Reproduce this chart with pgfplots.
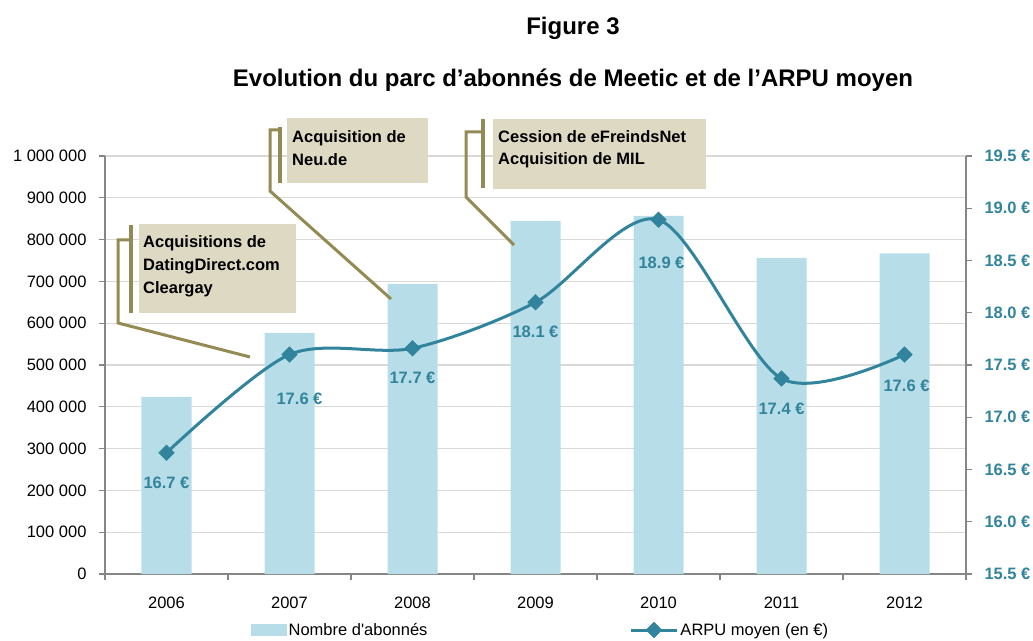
\documentclass[border=0pt]{standalone}
\usepackage{fontspec}
\setmainfont{Liberation Sans}
\usepackage{pgfplots}
\pgfplotsset{compat=1.18}

\definecolor{barblue}{HTML}{B7DEE8}
\definecolor{arpu}{HTML}{31849B}
\definecolor{callbox}{HTML}{DDD9C3}
\definecolor{callline}{HTML}{948A54}
\definecolor{gridgray}{HTML}{D9D9D9}
\definecolor{axisgray}{HTML}{868686}

\newcommand{\lbl}{\fontsize{16.5}{19}\selectfont}

\pgfplotsset{
  arpu legend/.style={legend image code/.code={\draw[mark repeat=2,mark phase=2,##1] plot coordinates {(0pt,0pt) (23pt,0pt) (46pt,0pt)};}},
  bar legend/.style={legend image code/.code={\fill[barblue] (0pt,-5pt) rectangle (35pt,6pt);}},
}

\begin{document}
\begin{tikzpicture}[x=1pt,y=1pt]
\useasboundingbox (0,0) rectangle (1033,640);

% abonnes (barres, axe de gauche)
\begin{axis}[
  at={(105pt,66pt)}, anchor=south west,
  scale only axis, width=861pt, height=418pt,
  xmin=-0.5, xmax=6.5, ymin=0, ymax=1000000,
  axis y line*=left, axis x line*=bottom,
  ytick={0,100000,...,1000000},
  scaled y ticks=false,
  yticklabel style={xshift=-9pt, /pgf/number format/.cd, fixed, precision=0, 1000 sep={\ }, assume math mode=true},
  xtick={0,...,6},
  xticklabels={2006,2007,2008,2009,2010,2011,2012},
  major x tick style={draw=none},
  minor xtick={-0.5,0.5,...,6.5},
  tick align=outside,
  major tick length=6pt, minor tick length=6pt,
  ymajorgrids, grid style={gridgray, line width=1.2pt},
  axis line style={axisgray, line width=1.3pt},
  tick style={axisgray, line width=1.2pt},
  tick label style={font=\lbl, black},
  xticklabel style={yshift=-13pt},
  ybar, bar width=50pt,
]
\addplot[fill=barblue, draw=none] table {
x y
0 424000
1 577000
2 694000
3 845000
4 857000
5 756000
6 767000
};
\end{axis}

% ARPU (ligne, axe de droite)
\begin{axis}[
  at={(105pt,66pt)}, anchor=south west,
  scale only axis, width=861pt, height=418pt,
  xmin=-0.5, xmax=6.5, ymin=15.5, ymax=19.5,
  axis y line*=right, axis x line=none,
  xtick=\empty,
  ytick={15.5,16,...,19.5},
  yticklabel={\pgfmathprintnumber[fixed,fixed zerofill,precision=1,assume math mode=true]{\tick}~€},
  yticklabel style={font=\lbl\bfseries, text=arpu, xshift=9pt},
  tick align=outside, major tick length=6pt,
  axis line style={axisgray, line width=1.3pt},
  tick style={axisgray, line width=1.2pt},
  clip=false,
  legend style={at={(0.506,-0.134)}, anchor=center, draw=none, fill=none,
    font=\lbl, legend columns=2, inner sep=0pt,
    /tikz/every even column/.append style={column sep=200pt}},
]
\addlegendimage{bar legend}
\addlegendentry{Nombre d\textquotesingle abonnés}
\addplot[arpu, line width=3pt, smooth, mark=square*, mark size=5.5pt,
  mark options={rotate=45, line width=0.5pt},
  arpu legend,
  nodes near coords={\pgfmathprintnumber[fixed,fixed zerofill,precision=1,assume math mode=true]{\pgfplotspointmeta}~€},
  visualization depends on={\thisrow{dx} \as \labdx},
  visualization depends on={\thisrow{dy} \as \labdy},
  every node near coord/.append style={font=\lbl\bfseries, text=arpu, anchor=center,
    xshift=\labdx pt, yshift=-\labdy pt},
] table {
x y dx dy
0 16.66 0 30
1 17.60 10 44
2 17.66 0 30
3 18.10 0 30
4 18.89 3 43
5 17.37 0 30
6 17.60 2 31
};
\addlegendentry{ARPU moyen (en €)}
\end{axis}

% titres
\node[font=\bfseries\fontsize{24}{28}\selectfont] at (573,612) {Figure 3};
\node[font=\bfseries\fontsize{24}{28}\selectfont] at (573,560) {Evolution du parc d’abonnés de Meetic et de l’ARPU moyen};

% encadres
\fill[callbox] (139,327) rectangle (296,416);
\fill[callbox] (287,457) rectangle (428,522);
\fill[callbox] (493,451) rectangle (706,521);

\draw[callline, line width=3.5pt] (131,415) -- (131,327);
\draw[callline, line width=3pt] (131,400) -- (118,400) -- (118,317) -- (250,283);
\draw[callline, line width=3.5pt] (280,513) -- (280,457);
\draw[callline, line width=3pt] (280,510) -- (270,510) -- (270,449) -- (391,341);
\draw[callline, line width=3.5pt] (483,521) -- (483,452);
\draw[callline, line width=3pt] (483,508) -- (466,508) -- (466,443) -- (514,395);

\node[anchor=north west, inner sep=0pt, align=left, font=\bfseries\fontsize{16.5}{23}\selectfont] at (143,405)
  {Acquisitions de\\DatingDirect.com\\Cleargay};
\node[anchor=north west, inner sep=0pt, align=left, font=\bfseries\fontsize{16.5}{23}\selectfont] at (292,510)
  {Acquisition de\\Neu.de};
\node[anchor=north west, inner sep=0pt, align=left, font=\bfseries\fontsize{16.5}{22}\selectfont] at (498,510)
  {Cession de eFreindsNet\\Acquisition de MIL};
\end{tikzpicture}
\end{document}
